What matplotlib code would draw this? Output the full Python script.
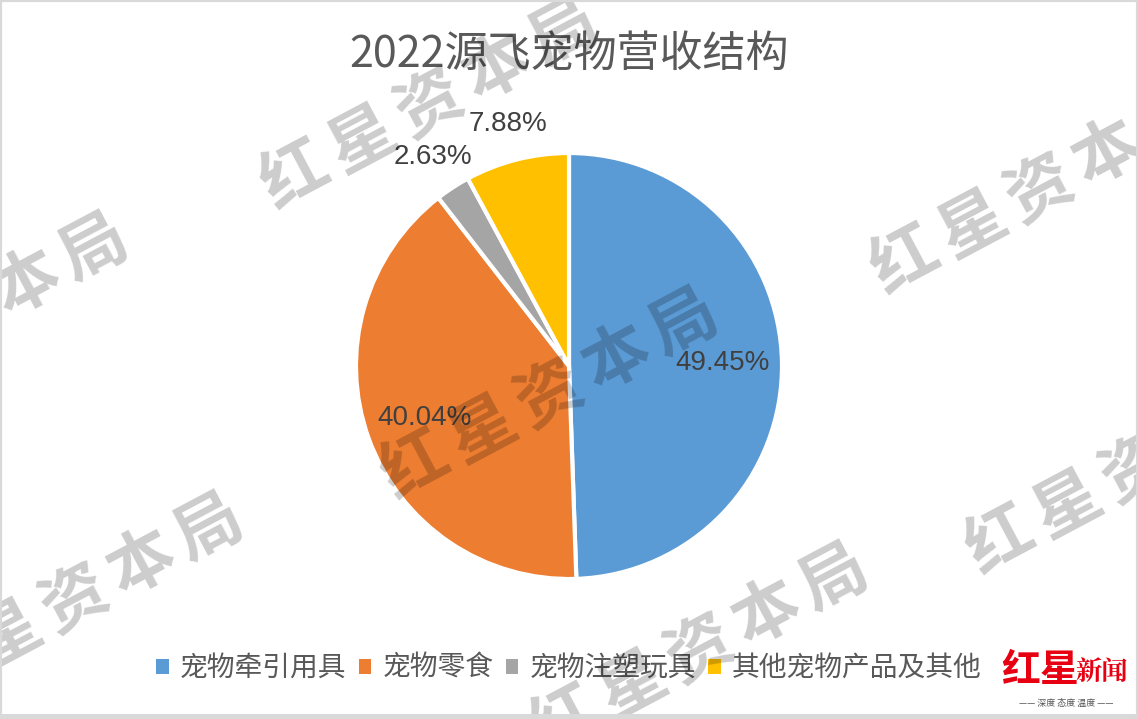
import matplotlib
matplotlib.use('Agg')

import matplotlib.pyplot as plt
import numpy as np
from matplotlib.patches import Rectangle

plt.rcParams['font.family'] = ['Noto Sans CJK SC', 'DejaVu Sans']

# data
categories = ["宠物牵引用具", "宠物零食", "宠物注塑玩具", "其他宠物产品及其他"]
shares = [49.45, 40.04, 2.63, 7.88]
colors = ["#5b9bd5", "#ed7d31", "#a5a5a5", "#ffc000"]
title = "2022源飞宠物营收结构"

# watermark anchors (pixel position of the middle glyph)
wm_text = "红星资本局"
wm_x = [430, 550, 1040, -40, 75, 1135, 700]
wm_y = [105, 395, 190, 320, 600, 470, 650]

W, H = 1138, 719
fig = plt.figure(figsize=(W / 100, H / 100), dpi=100)
fig.patch.set_facecolor("white")

# pie axes: square, center (569, 366), radius 213 px
cx, cy, r = 569, 366, 213
ax = fig.add_axes([(cx - r) / W, (H - cy - r) / H, 2 * r / W, 2 * r / H])
wedges, _ = ax.pie(shares, colors=colors, startangle=90, counterclock=False,
                   radius=1.0, wedgeprops=dict(edgecolor="white", linewidth=3))
ax.set_xlim(-1, 1)
ax.set_ylim(-1, 1)
ax.set_aspect("equal")
ax.axis("off")

# data labels: inside for big slices, outside for small
for w, v in zip(wedges, shares):
    mid = np.deg2rad((w.theta1 + w.theta2) / 2)
    d = 0.72 if v > 10 else 1.17
    ax.text(d * np.cos(mid), d * np.sin(mid), "%.2f%%" % v, ha="center", va="center",
            fontsize=20, color="#404040", family=["Liberation Sans", "DejaVu Sans"],
            clip_on=False, zorder=5)

fig.text(0.5, 1 - 55 / H, title, ha="center", va="center", fontsize=31, color="#595959")

leg = fig.legend(wedges, categories, loc="center", bbox_to_anchor=(0.5, 1 - 668 / H),
                 ncol=4, frameon=False, fontsize=20, handlelength=0.45, handleheight=0.45,
                 handletextpad=0.4, columnspacing=0.45, labelcolor="#595959")
for h in leg.legend_handles:
    h.set_edgecolor("none")

# watermarks
ang = 28
dx, dy = np.cos(np.deg2rad(ang)), np.sin(np.deg2rad(ang))
step = 76
for x0, y0 in zip(wm_x, wm_y):
    for i, ch in enumerate(wm_text):
        k = i - 2
        px = x0 + k * step * dx
        py = y0 - k * step * dy
        fig.text(px / W, 1 - py / H, ch, ha="center", va="center", fontsize=48,
                 fontweight="bold", color="black", alpha=0.2, rotation=ang, zorder=10)

# logo bottom right
fig.text(1040 / W, 1 - 670 / H, "红星", ha="center", va="center", fontsize=28,
         fontweight="bold", color="#e60012", zorder=11)
fig.text(1102 / W, 1 - 672 / H, "新闻", ha="center", va="center", fontsize=19,
         fontweight="bold", color="#e60012", family=["Noto Serif CJK SC", "Noto Sans CJK SC"], zorder=11)
fig.text(1066 / W, 1 - 703 / H, "—— 深度 态度 温度 ——", ha="center", va="center", fontsize=6.5,
         color="#555555", zorder=11)

# light frame around the picture
fig.patches.append(Rectangle((0, 0), 1, 1, transform=fig.transFigure, fill=False,
                             edgecolor="#d9d9d9", linewidth=3, zorder=20))
fig.patches.append(Rectangle((0, 0), 1, 5 / H, transform=fig.transFigure, facecolor="#d9d9d9",
                             edgecolor="none", zorder=20))

fig.savefig("out.png", dpi=100)
